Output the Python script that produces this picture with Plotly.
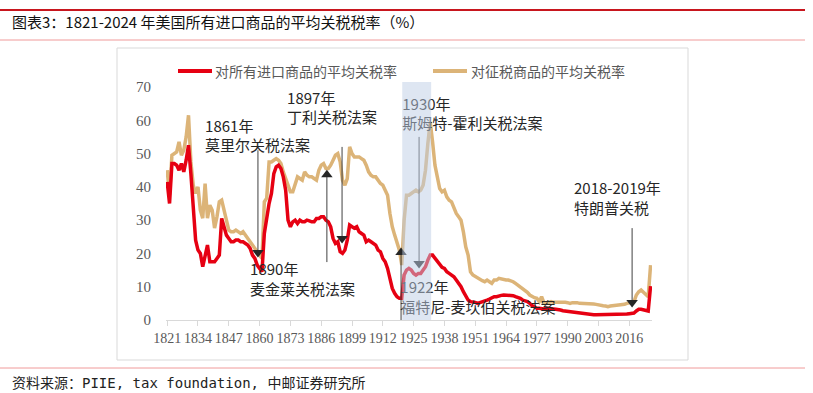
import plotly.graph_objects as go

years = list(range(1821, 2026))

dutiable_rate = [
    45, 37.5, 49.5, 50, 50.5, 53.5, 49.5, 51, 55, 61.5,
    47.5, 40.5, 38, 40, 33, 30.6, 41, 30.6, 34.5, 33,
    27.6, 31, 35.5, 36, 33, 29.5, 27, 26.5, 26.5, 27,
    26.5, 26, 26.5, 25.5, 24.5, 23.5, 22.5, 21.5, 20.5, 19.5,
    18.5, 35.5, 36.6, 47.5, 47.5, 48, 48.5, 48, 47, 44.5,
    42.5, 40.5, 38.5, 38.5, 40.5, 43, 42.5, 42, 44.5, 43.5,
    43, 43, 42.5, 42, 45, 46.5, 47, 45.5, 45.5, 46.5,
    48, 49.5, 50, 47.5, 42, 40.5, 42.5, 52, 50, 49,
    49, 49, 48.5, 48, 46.5, 44.5, 43.5, 43, 43, 42,
    41, 40.5, 39, 37.5, 32, 28, 25.5, 23.5, 21, 16.5,
    30, 37.5, 37.5, 38, 38.5, 39, 38.5, 39, 40.5, 45,
    53, 59.5, 53.5, 46.5, 43, 39.5, 38.5, 39, 37, 36,
    35.5, 33.5, 32, 31, 30, 26.5, 22, 19.5, 14.5, 13.5,
    13, 12.5, 12, 11.8, 11.5, 12, 11.5, 11, 12, 12,
    12.5, 12.3, 12, 12, 12, 11.8, 11.5, 11, 10.5, 10,
    9.5, 9, 8.3, 7.5, 7, 6.7, 6.5, 5.5, 7, 5.2,
    5, 5.3, 5.5, 5.3, 5.3, 5.3, 5.5, 5.3, 5.3, 5.2,
    5, 5.2, 5.3, 5.2, 5, 5, 5, 5, 4.8, 5,
    4.8, 4.7, 4.5, 4.5, 4.3, 4.2, 4, 4.2, 4.3, 4.3,
    4.4, 4.5, 4.5, 4.7, 5, 5.2, 5.2, 5.5, 7.5, 8.5,
    9, 8.3, 7.5, 7, 16.5,
]

all_rate = [
    41.5, 35, 47, 47, 46.5, 45, 47, 44.5, 48, 52.5,
    44, 32.5, 24, 21, 20, 16, 19, 22.5, 17.5, 17.5,
    17.5, 18.5, 19.5, 30.5, 28, 25.5, 24.5, 23.5, 23.5, 24,
    24, 23.5, 23.5, 23, 22.5, 21.5, 19.5, 18.5, 16.5, 15.5,
    14.5, 26, 31, 35, 38, 44, 46, 46.5, 45.5, 43,
    39, 30, 28, 29.5, 30, 29, 30, 29.5, 29.5, 30,
    29.8, 29.5, 29.5, 30.5, 30.5, 31, 31, 30, 29.5, 28,
    24.5, 23, 23.5, 20.5, 20, 21, 24, 28.5, 28, 27.6,
    28, 26.5, 26, 25.5, 23.5, 24, 23.5, 23, 22.5, 21,
    20.5, 18.5, 17.5, 15.5, 12.5, 9.5, 8, 7, 6.5, 6.5,
    13.5, 15, 15.5, 15, 14, 13.5, 14, 14, 15, 16,
    18, 19.5, 19.5, 18.5, 17.5, 16.5, 15.8, 15.5, 14.5, 14,
    13.5, 13, 12, 11, 10, 8.5, 7, 6, 5.5, 5.5,
    5.3, 5, 5.2, 5.5, 5.8, 6, 6.3, 6.7, 7, 7,
    7.3, 7.4, 7.5, 7.5, 7.5, 7.5, 7.3, 7, 6.8, 6.5,
    6, 5.8, 5.5, 5, 4.3, 4, 3.5, 3.5, 3.3, 3.3,
    3.5, 3.5, 3.4, 3.3, 3.2, 3.2, 3, 2.8, 2.7, 2.6,
    2.4, 2.3, 2.2, 2.1, 2, 1.9, 1.8, 1.8, 1.7, 1.6,
    1.6, 1.6, 1.6, 1.6, 1.6, 1.6, 1.6, 1.6, 1.7, 1.7,
    1.8, 1.8, 1.8, 1.8, 1.8, 1.9, 1.9, 2.1, 2.7, 3.2,
    3.2, 3, 2.9, 2.7, 10.2,
]

series_names = ["对所有进口商品的平均关税率", "对征税商品的平均关税率"]
tick_years = list(range(1821, 2017, 13))
y_ticks = list(range(0, 71, 10))

# event labels: (x, y, text)
event_labels = [
    (1837.0, 54.7, "1861年<br>莫里尔关税法案"),
    (1871.6, 63.1, "1897年<br>丁利关税法案"),
    (1856.0, 11.6, "1890年<br>麦金莱关税法案"),
    (1920.2, 61.3, "1930年<br>斯姆特-霍利关税法案"),
    (1919.4, 6.3, "1922年<br>福特尼-麦坎伯关税法案"),
    (1992.7, 36.0, "2018-2019年<br>特朗普关税"),
]
# arrows: (x, tail y, tip y)
event_arrows = [
    (1859.3, 51.0, 18.9),
    (1888.4, 17.4, 45.0),
    (1894.8, 52.0, 23.1),
    (1919.7, 0.0, 21.6),
    (1927.3, 55.0, 15.6),
    (2017.2, 27.6, 3.9),
]
band_years = (1920.2, 1932.4)

RED = "#e60012"
TAN = "#dcb478"
W, H = 813, 393
L, R, T, B = 166, 652, 82, 320
XR = [1820.5, 2025.6]
YR = [0, 71.5]


def px(x):
    return (x - L) / (R - L)


def py(y):
    return (B - y) / (B - T)


fig = go.Figure()
fig.add_trace(go.Scatter(x=years, y=dutiable_rate, mode="lines", name=series_names[1],
                         line=dict(color=TAN, width=3.5), showlegend=False, cliponaxis=False))
fig.add_trace(go.Scatter(x=years, y=all_rate, mode="lines", name=series_names[0],
                         line=dict(color=RED, width=3.5), showlegend=False, cliponaxis=False))

unit_per_px = (YR[1] - YR[0]) / (B - T)
for x, y0, y1 in event_arrows:
    up = y1 > y0
    head = 4.5 * unit_per_px
    my = y1 - head if up else y1 + head
    fig.add_trace(go.Scatter(x=[x, x], y=[y0, my], mode="lines",
                             line=dict(color="#404040", width=1), showlegend=False,
                             cliponaxis=False, hoverinfo="skip"))
    fig.add_trace(go.Scatter(x=[x], y=[my], mode="markers",
                             marker=dict(symbol="triangle-up" if up else "triangle-down",
                                         size=10, color="#262626", line=dict(width=0)),
                             showlegend=False, cliponaxis=False, hoverinfo="skip"))

for x, y, t in event_labels:
    fig.add_trace(go.Scatter(x=[x], y=[y], mode="text", text=[t], textposition="middle right",
                             textfont=dict(family="Noto Sans CJK SC", size=15, color="#262626"),
                             showlegend=False, cliponaxis=False, hoverinfo="skip"))

shapes = [
    # highlight band above everything
    dict(type="rect", xref="x", yref="y", x0=band_years[0], x1=band_years[1], y0=0, y1=YR[1],
         fillcolor="rgba(189,206,230,0.5)", line=dict(width=0), layer="above"),
    # header lines
    dict(type="line", xref="paper", yref="paper", x0=px(0), x1=px(805), y0=py(10), y1=py(10),
         line=dict(color="#c8161e", width=2)),
    dict(type="line", xref="paper", yref="paper", x0=px(0), x1=px(805), y0=py(40), y1=py(40),
         line=dict(color="#f09a9a", width=1)),
    dict(type="line", xref="paper", yref="paper", x0=px(0), x1=px(805), y0=py(368), y1=py(368),
         line=dict(color="#f09a9a", width=1)),
    # chart frame
    dict(type="rect", xref="paper", yref="paper", x0=px(117), x1=px(688), y0=py(360), y1=py(48),
         line=dict(color="#d9d9d9", width=1), layer="below"),
    # legend lines
    dict(type="line", xref="paper", yref="paper", x0=px(178), x1=px(212), y0=py(71), y1=py(71),
         line=dict(color=RED, width=4)),
    dict(type="line", xref="paper", yref="paper", x0=px(433), x1=px(467), y0=py(71), y1=py(71),
         line=dict(color=TAN, width=4)),
]

annotations = [
    dict(xref="paper", yref="paper", x=px(10), y=py(21), xanchor="left", yanchor="middle",
         text="图表3：1821-2024 年美国所有进口商品的平均关税税率（%）", showarrow=False,
         font=dict(family="Noto Sans CJK SC", size=15, color="#111111")),
    dict(xref="paper", yref="paper", x=px(10), y=py(383), xanchor="left", yanchor="middle",
         text="资料来源：PIIE, tax foundation, 中邮证券研究所", showarrow=False,
         font=dict(family="DejaVu Sans Mono, Noto Sans CJK SC", size=14, color="#222222")),
    dict(xref="paper", yref="paper", x=px(213), y=py(71), xanchor="left", yanchor="middle",
         text=series_names[0], showarrow=False,
         font=dict(family="Noto Sans CJK SC", size=14, color="#595959")),
    dict(xref="paper", yref="paper", x=px(469), y=py(71), xanchor="left", yanchor="middle",
         text=series_names[1], showarrow=False,
         font=dict(family="Noto Sans CJK SC", size=14, color="#595959")),
]

fig.update_layout(
    width=W, height=H,
    margin=dict(l=L, r=W - R, t=T, b=H - B),
    paper_bgcolor="white", plot_bgcolor="white",
    shapes=shapes, annotations=annotations,
    showlegend=False,
    xaxis=dict(range=XR, tickvals=tick_years, ticktext=[str(v) for v in tick_years],
               tickangle=0, showgrid=False, zeroline=False, showline=True,
               linecolor="#d9d9d9", linewidth=1, ticks="outside", ticklen=5,
               tickcolor="#d9d9d9",
               tickfont=dict(family="Liberation Serif", size=14, color="#595959")),
    yaxis=dict(range=YR, tickvals=y_ticks, showgrid=False, zeroline=False, showline=False,
               ticks="", ticklabelstandoff=14,
               tickfont=dict(family="Liberation Serif", size=15, color="#595959")),
)

fig.write_html("out.html",
               config={"displayModeBar": False, "staticPlot": True},
               post_script="document.body.style.margin='0';document.body.style.overflow='hidden';")
